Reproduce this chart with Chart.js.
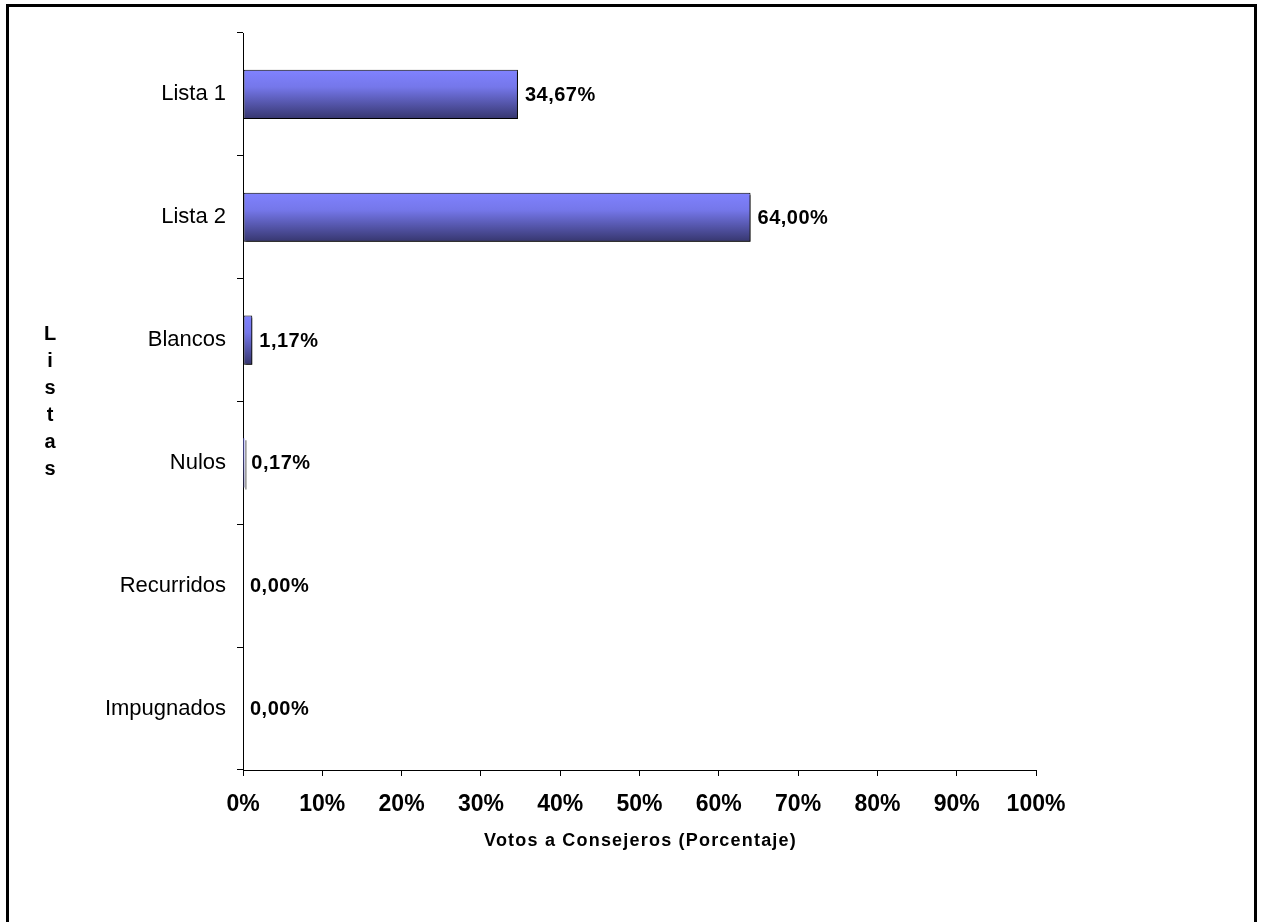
<!DOCTYPE html>
<html>
<head>
<meta charset="utf-8">
<script src="https://cdn.jsdelivr.net/npm/chart.js@4"></script>
<style>
  html, body { margin: 0; padding: 0; background: #fff; overflow: hidden; }
  #wrap { position: relative; width: 1262px; height: 922px; }
  #frame { position: absolute; left: 6px; top: 4px; width: 1251px; height: 1000px;
           border: 3px solid #000; box-sizing: border-box; }
  canvas { position: absolute; left: 0; top: 0; }
</style>
</head>
<body>
<div id="wrap">
  <div id="frame"></div>
  <canvas id="chart" width="1262" height="922"></canvas>
</div>
<script>
const categories = ['Lista 1', 'Lista 2', 'Blancos', 'Nulos', 'Recurridos', 'Impugnados'];
const votePercent = [34.67, 64.00, 1.17, 0.17, 0.00, 0.00];
const yAxisLetters = ['L', 'i', 's', 't', 'a', 's'];
const xAxisTitle = 'Votos a Consejeros (Porcentaje)';

const FONT = "'Liberation Sans', Arial, sans-serif";
const BAR_PCT = 0.4;

function barFill(c) {
    const chart = c.chart;
    const y = chart.scales.y;
    if (!chart.chartArea || !y || c.dataIndex === undefined) return '#7b7cf2';
    const center = y.getPixelForValue(c.dataIndex);
    const half = (y.height / categories.length) * BAR_PCT / 2;
    const g = chart.ctx.createLinearGradient(0, center - half, 0, center + half);
    g.addColorStop(0, '#8082ff');
    g.addColorStop(0.35, '#7577ea');
    g.addColorStop(1, '#36366e');
    return g;
}

const valueLabels = {
    id: 'valueLabels',
    beforeDatasetDraw(chart) {
        const ctx = chart.ctx;
        ctx.save();
        ctx.shadowColor = 'rgba(0,0,0,0.75)';
        ctx.shadowOffsetX = 2;
        ctx.shadowOffsetY = 2;
    },
    afterDatasetDraw(chart) {
        chart.ctx.restore();
    },
    afterDatasetsDraw(chart) {
        const ctx = chart.ctx;
        const meta = chart.getDatasetMeta(0);
        const a = chart.chartArea;
        ctx.save();
        ctx.fillStyle = '#000';
        ctx.textBaseline = 'middle';

        // value labels at the bar ends
        ctx.font = 'bold 20px ' + FONT;
        ctx.textAlign = 'left';
        ctx.letterSpacing = '0.5px';
        meta.data.forEach((bar, i) => {
            const txt = votePercent[i].toFixed(2).replace('.', ',') + '%';
            ctx.fillText(txt, bar.x + 7, bar.y + 1);
        });

        // stacked y axis title
        ctx.letterSpacing = '0px';
        ctx.font = 'bold 20px ' + FONT;
        ctx.textAlign = 'center';
        const mid = (a.top + a.bottom) / 2;
        const step = 27;
        yAxisLetters.forEach((ch, i) => {
            ctx.fillText(ch, 50, mid + (i - (yAxisLetters.length - 1) / 2) * step);
        });

        // x axis title, spaced like the original
        ctx.font = 'bold 18px ' + FONT;
        ctx.letterSpacing = '1.2px';
        ctx.fillText(xAxisTitle, (a.left + a.right) / 2 + 1, 841);
        ctx.restore();
    }
};

new Chart(document.getElementById('chart'), {
    type: 'bar',
    data: {
        labels: categories,
        datasets: [{
            data: votePercent,
            backgroundColor: barFill,
            borderColor: '#000',
            borderWidth: c => (votePercent[c.dataIndex] > 0.5 ? 1 : 0),
            borderSkipped: false,
            barPercentage: BAR_PCT,
            categoryPercentage: 1
        }]
    },
    options: {
        indexAxis: 'y',
        responsive: false,
        animation: false,
        devicePixelRatio: 1,
        layout: { padding: { left: 0, top: 33, right: 226, bottom: 0 } },
        plugins: {
            legend: { display: false },
            tooltip: { enabled: false }
        },
        scales: {
            x: {
                min: 0,
                max: 100,
                ticks: {
                    stepSize: 10,
                    color: '#000',
                    padding: 15,
                    font: { family: FONT, size: 23, weight: 'bold' },
                    callback: v => v + '%'
                },
                grid: { drawOnChartArea: false, drawTicks: true, tickLength: 6, color: '#000' },
                border: { display: true, color: '#000', width: 1 },
                afterFit(s) { s.height = 922 - 770; }
            },
            y: {
                ticks: {
                    color: '#000',
                    padding: 11,
                    font: { family: FONT, size: 22 }
                },
                grid: { drawOnChartArea: false, drawTicks: true, tickLength: 6, color: '#000', offset: true },
                border: { display: true, color: '#000', width: 1 },
                afterFit(s) { s.width = 243; }
            }
        }
    },
    plugins: [valueLabels]
});
</script>
</body>
</html>
